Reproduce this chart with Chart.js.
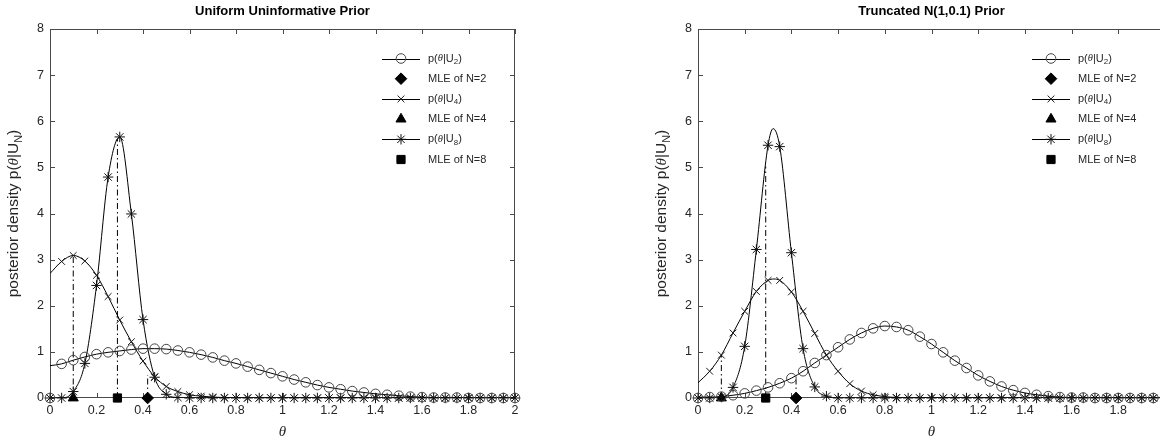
<!DOCTYPE html>
<html>
<head>
<meta charset="utf-8">
<script src="https://cdn.jsdelivr.net/npm/chart.js@4.4.0/dist/chart.umd.min.js"></script>
<style>
  html, body { margin: 0; padding: 0; background: #fff; overflow: hidden; }
  #wrap { position: relative; width: 1160px; height: 442px; overflow: hidden; }
  #left { position: absolute; left: 0; top: 0; }
  #right { position: absolute; left: 580px; top: 0; }
</style>
</head>
<body>
<div id="wrap">
  <canvas id="left" width="580" height="442"></canvas>
  <canvas id="right" width="600" height="442"></canvas>
</div>
<script>
// theta grid the posteriors are sampled on
const theta = [0, 0.05, 0.1, 0.15, 0.2, 0.25, 0.3, 0.35, 0.4, 0.45,
  0.5, 0.55, 0.6, 0.65, 0.7, 0.75, 0.8, 0.85, 0.9, 0.95,
  1, 1.05, 1.1, 1.15, 1.2, 1.25, 1.3, 1.35, 1.4, 1.45,
  1.5, 1.55, 1.6, 1.65, 1.7, 1.75, 1.8, 1.85, 1.9, 1.95, 2];

// uniform prior posteriors
const uniU2 = [0, 0.74, 0.82, 0.89, 0.95, 0.99, 1.02, 1.05, 1.07, 1.07,
  1.06, 1.03, 0.99, 0.94, 0.88, 0.81, 0.75, 0.68, 0.61, 0.54,
  0.47, 0.40, 0.34, 0.28, 0.23, 0.19, 0.15, 0.12, 0.09, 0.07,
  0.05, 0.03, 0.02, 0.01, 0.01, 0.01, 0, 0, 0, 0, 0];
const uniU4 = [0, 2.96, 3.09, 2.97, 2.66, 2.2, 1.69, 1.22, 0.8, 0.46,
  0.25, 0.14, 0.07, 0.04, 0.02, 0.01, 0, 0, 0, 0,
  0, 0, 0, 0, 0, 0, 0, 0, 0, 0,
  0, 0, 0, 0, 0, 0, 0, 0, 0, 0, 0];
const uniU8 = [0, 0, 0.14, 0.75, 2.44, 4.79, 5.66, 3.99, 1.7, 0.45,
  0.08, 0.01, 0, 0, 0, 0, 0, 0, 0, 0,
  0, 0, 0, 0, 0, 0, 0, 0, 0, 0,
  0, 0, 0, 0, 0, 0, 0, 0, 0, 0, 0];

// truncated normal prior posteriors
const truncU2 = [0, 0.02, 0.03, 0.06, 0.1, 0.16, 0.23, 0.32, 0.43, 0.58,
  0.76, 0.93, 1.1, 1.27, 1.41, 1.51, 1.56, 1.54, 1.47, 1.33,
  1.17, 0.99, 0.81, 0.65, 0.49, 0.36, 0.25, 0.17, 0.11, 0.07,
  0.04, 0.02, 0.01, 0.01, 0, 0, 0, 0, 0, 0, 0];
const truncU4 = [0, 0.58, 0.93, 1.41, 1.88, 2.31, 2.55, 2.55, 2.3, 1.88,
  1.4, 0.93, 0.58, 0.31, 0.15, 0.07, 0.03, 0.01, 0, 0,
  0, 0, 0, 0, 0, 0, 0, 0, 0, 0,
  0, 0, 0, 0, 0, 0, 0, 0, 0, 0, 0];
const truncU8 = [0, 0, 0.02, 0.23, 1.12, 3.22, 5.48, 5.45, 3.15, 1.07,
  0.24, 0.04, 0, 0, 0, 0, 0, 0, 0, 0,
  0, 0, 0, 0, 0, 0, 0, 0, 0, 0,
  0, 0, 0, 0, 0, 0, 0, 0, 0, 0, 0];

// value of each curve at theta = 0 (U2, U4, U8)
const uniStart = [0.7, 2.7, 0];
const truncStart = [0.02, 0.33, 0];
// tops of the curves that fall between grid points
const truncU4Peak = [0.325, 2.58];
const truncU8Peak = [0.322, 5.84];

// maximum likelihood estimates for N = 2, 4, 8 and the heights of their guide lines
const mleTheta = [0.42, 0.1, 0.29];
const uniStems = [0.5, 3.09, 5.62];
const truncStems = [0.4, 0.93, 5.02];

const xTicks = [0, 0.2, 0.4, 0.6, 0.8, 1, 1.2, 1.4, 1.6, 1.8, 2];
const yTicks = [0, 1, 2, 3, 4, 5, 6, 7, 8];

const SANS = '"Liberation Sans", Arial, Helvetica, sans-serif';
const SERIF = '"Liberation Serif", "Times New Roman", serif';
const INK = '#262626';

const marks = {
  U2: { pointStyle: 'circle', radius: 4.8, color: '#444', fill: 'rgba(0,0,0,0)' },
  U4: { pointStyle: 'crossRot', radius: 4.8, color: '#1a1a1a', fill: 'rgba(0,0,0,0)' },
  U8: { pointStyle: 'star', radius: 5.2, color: '#111', fill: 'rgba(0,0,0,0)' },
  N2: { pointStyle: 'rectRot', radius: 5.8, color: '#000', fill: '#000' },
  N4: { pointStyle: 'triangle', radius: 5.8, color: '#000', fill: '#000' },
  N8: { pointStyle: 'rect', radius: 5.8, color: '#000', fill: '#000' }
};

function curvePoints(vals) {
  return theta.map((t, i) => ({ x: t, y: vals[i] }));
}

function linePoints(vals, start, peak) {
  const pts = curvePoints(vals);
  pts[0] = { x: 0, y: start };
  if (peak) {
    pts.push({ x: peak[0], y: peak[1] });
    pts.sort((a, b) => a.x - b.x);
  }
  return pts;
}

function lineSet(data) {
  return { data, showLine: true, borderColor: '#000', borderWidth: 1, pointRadius: 0,
    cubicInterpolationMode: 'monotone', order: 2 };
}

function markSet(data, m) {
  return { data, showLine: false, pointStyle: m.pointStyle, pointRadius: m.radius,
    pointBorderColor: m.color, pointBackgroundColor: m.fill, pointBorderWidth: 1,
    clip: false, order: 1 };
}

function stemSet(x, h) {
  return { data: [{ x, y: 0 }, { x, y: h }], showLine: true, borderColor: '#000', borderWidth: 1,
    borderDash: [6, 3, 1.5, 3], pointRadius: 0, tension: 0, order: 3 };
}

// draws a run of text pieces (plain / italic theta / subscript) starting at x
function drawRuns(ctx, runs, x, y, align) {
  let total = 0;
  runs.forEach(r => { ctx.font = r.font; total += ctx.measureText(r.t).width; });
  let cx = align === 'center' ? x - total / 2 : x;
  ctx.textAlign = 'left';
  ctx.textBaseline = 'middle';
  runs.forEach(r => {
    ctx.font = r.font;
    ctx.fillText(r.t, cx, y + (r.dy || 0));
    cx += ctx.measureText(r.t).width;
  });
}

function pLabel(sub, size) {
  const f = size + 'px ' + SANS;
  return [
    { t: 'p(', font: f },
    { t: 'θ', font: 'italic ' + (size - 0.5) + 'px ' + SERIF },
    { t: '|U', font: f },
    { t: sub, font: (size * 0.72) + 'px ' + SANS, dy: size * 0.3 },
    { t: ')', font: f }
  ];
}

const LEG = 11;
const legendRows = [
  { m: marks.U2, line: true, text: pLabel('2', LEG) },
  { m: marks.N2, line: false, text: 'MLE of N=2' },
  { m: marks.U4, line: true, text: pLabel('4', LEG) },
  { m: marks.N4, line: false, text: 'MLE of N=4' },
  { m: marks.U8, line: true, text: pLabel('8', LEG) },
  { m: marks.N8, line: false, text: 'MLE of N=8' }
];

const framePlugin = {
  id: 'frame',
  beforeDatasetsDraw(chart) {
    const { ctx, chartArea: a, scales } = chart;
    ctx.save();
    ctx.strokeStyle = '#4a4a4a';
    ctx.lineWidth = 1;
    ctx.strokeRect(a.left + 0.5, a.top + 0.5, a.right - a.left - 1, a.bottom - a.top - 1);
    ctx.beginPath();
    scales.x.ticks.forEach(t => {
      const px = Math.round(scales.x.getPixelForValue(t.value)) + 0.5;
      ctx.moveTo(px, a.bottom); ctx.lineTo(px, a.bottom - 5);
      ctx.moveTo(px, a.top); ctx.lineTo(px, a.top + 5);
    });
    scales.y.ticks.forEach(t => {
      const py = Math.round(scales.y.getPixelForValue(t.value)) + 0.5;
      ctx.moveTo(a.left, py); ctx.lineTo(a.left + 5, py);
      ctx.moveTo(a.right, py); ctx.lineTo(a.right - 5, py);
    });
    ctx.stroke();
    ctx.restore();
  },
  afterDraw(chart) {
    const { ctx, chartArea: a } = chart;
    const title = chart.options.plugins.frame.title;
    const midX = (a.left + a.right) / 2;
    const midY = (a.top + a.bottom) / 2;
    ctx.save();
    ctx.fillStyle = '#000';
    ctx.font = 'bold 13px ' + SANS;
    ctx.textAlign = 'center';
    ctx.textBaseline = 'middle';
    ctx.fillText(title, midX, 11);

    // axis labels
    ctx.fillStyle = INK;
    ctx.font = 'italic 15px ' + SERIF;
    ctx.fillText('θ', midX, 432);
    ctx.save();
    ctx.translate(a.left - 36, midY);
    ctx.rotate(-Math.PI / 2);
    const f = '15.5px ' + SANS;
    drawRuns(ctx, [
      { t: 'posterior density p(', font: f },
      { t: 'θ', font: 'italic 15px ' + SERIF },
      { t: '|U', font: f },
      { t: 'N', font: '11px ' + SANS, dy: 4.5 },
      { t: ')', font: f }
    ], 0, 0, 'center');
    ctx.restore();

    // legend
    const textX = a.right - 87;
    const markX = a.right - 114;
    legendRows.forEach((row, i) => {
      const y = 58.5 + i * 20.2;
      if (row.line) {
        ctx.strokeStyle = '#000';
        ctx.lineWidth = 1;
        ctx.beginPath();
        ctx.moveTo(a.right - 133, Math.round(y) + 0.5);
        ctx.lineTo(a.right - 95, Math.round(y) + 0.5);
        ctx.stroke();
      }
      ctx.strokeStyle = row.m.color;
      ctx.fillStyle = row.m.fill;
      ctx.lineWidth = 1;
      Chart.helpers.drawPoint(ctx, { pointStyle: row.m.pointStyle, radius: row.m.radius,
        borderWidth: 1, rotation: 0 }, markX, y);
      ctx.fillStyle = INK;
      if (typeof row.text === 'string') {
        drawRuns(ctx, [{ t: row.text, font: LEG + 'px ' + SANS }], textX, y, 'left');
      } else {
        drawRuns(ctx, row.text, textX, y, 'left');
      }
    });
    ctx.restore();
  }
};

function makeChart(id, title, series, starts, peaks, stems, padLeft, padRight) {
  const datasets = [
    lineSet(linePoints(series[0], starts[0], peaks[0])),
    lineSet(linePoints(series[1], starts[1], peaks[1])),
    lineSet(linePoints(series[2], starts[2], peaks[2])),
    stemSet(mleTheta[0], stems[0]),
    stemSet(mleTheta[1], stems[1]),
    stemSet(mleTheta[2], stems[2]),
    markSet(curvePoints(series[0]), marks.U2),
    markSet(curvePoints(series[1]), marks.U4),
    markSet(curvePoints(series[2]), marks.U8),
    markSet([{ x: mleTheta[0], y: 0 }], marks.N2),
    markSet([{ x: mleTheta[1], y: 0 }], marks.N4),
    markSet([{ x: mleTheta[2], y: 0 }], marks.N8)
  ];

  return new Chart(document.getElementById(id), {
    type: 'scatter',
    data: { datasets },
    options: {
      responsive: false,
      animation: false,
      devicePixelRatio: 1,
      layout: { padding: { top: 29, right: padRight, left: padLeft, bottom: 0 } },
      plugins: {
        legend: { display: false },
        tooltip: { enabled: false },
        frame: { title }
      },
      scales: {
        x: {
          type: 'linear', min: 0, max: 2,
          grid: { display: false, drawTicks: false }, border: { display: false },
          afterBuildTicks: s => { s.ticks = xTicks.map(v => ({ value: v })); },
          ticks: { color: INK, font: { family: SANS, size: 12.5 }, padding: 5,
            maxRotation: 0, autoSkip: false, callback: v => String(+v.toFixed(1)) },
          afterFit: s => { s.height = 44; }
        },
        y: {
          type: 'linear', min: 0, max: 8,
          grid: { display: false, drawTicks: false }, border: { display: false },
          afterBuildTicks: s => { s.ticks = yTicks.map(v => ({ value: v })); },
          ticks: { color: INK, font: { family: SANS, size: 12.5 }, padding: 6, autoSkip: false },
          afterFit: s => { s.width = 50; }
        }
      }
    },
    plugins: [framePlugin]
  });
}

makeChart('left', 'Uniform Uninformative Prior', [uniU2, uniU4, uniU8],
  uniStart, [null, null, null], uniStems, 0, 65);
makeChart('right', 'Truncated N(1,0.1) Prior', [truncU2, truncU4, truncU8],
  truncStart, [null, truncU4Peak, truncU8Peak], truncStems, 68, 15);
</script>
</body>
</html>
